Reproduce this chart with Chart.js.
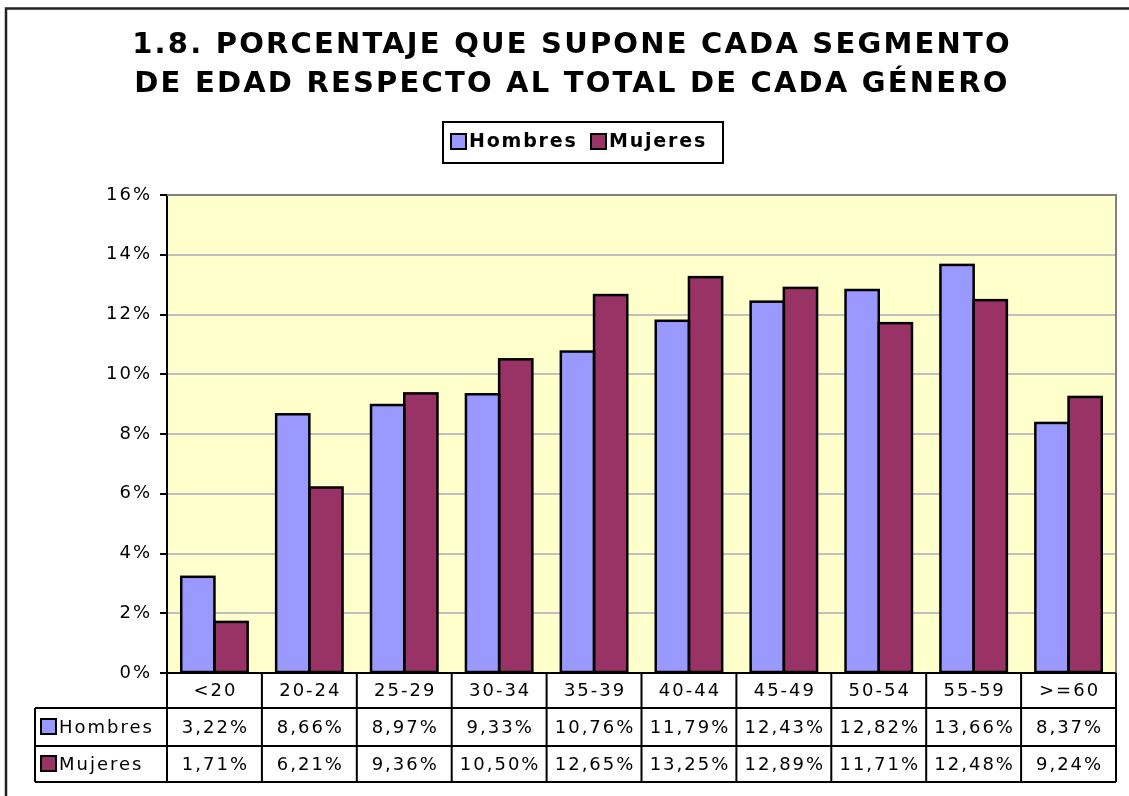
<!DOCTYPE html>
<html lang="es">
<head>
<meta charset="UTF-8">
<title>1.8 Porcentaje por segmento de edad</title>
<style>
  html, body { margin: 0; padding: 0; background: #fff; }
  #wrap { width: 1129px; height: 796px; }
</style>
</head>
<body>
<div id="wrap"><canvas id="myChart" width="1129" height="796"></canvas></div>

<script src="https://cdn.jsdelivr.net/npm/chart.js"></script>
<script>
    const categories = ['<20', '20-24', '25-29', '30-34', '35-39', '40-44', '45-49', '50-54', '55-59', '>=60'];
    const hombres = [3.22, 8.66, 8.97, 9.33, 10.76, 11.79, 12.43, 12.82, 13.66, 8.37];
    const mujeres = [1.71, 6.21, 9.36, 10.50, 12.65, 13.25, 12.89, 11.71, 12.48, 9.24];
    const titleLines = ['1.8. PORCENTAJE QUE SUPONE CADA SEGMENTO', 'DE EDAD RESPECTO AL TOTAL DE CADA GÉNERO'];

    const colHombres = '#9999FF';
    const colMujeres = '#993366';
    const FONT = '"DejaVu Sans", Verdana, sans-serif';

    const fmt = v => v.toFixed(2).replace('.', ',') + '%';

    // fondo amarillo del área de trazado
    const plotBg = {
        id: 'plotBg',
        beforeDraw(chart) {
            const {ctx, chartArea: a} = chart;
            ctx.save();
            ctx.fillStyle = '#fff';
            ctx.fillRect(0, 0, chart.width, chart.height);
            ctx.fillStyle = '#FFFFCC';
            ctx.fillRect(a.left, a.top, a.right - a.left, a.bottom - a.top);
            ctx.restore();
            ctx.letterSpacing = '2px';
        },
        // contorno negro de las barras, a partir de los elementos del gráfico
        afterDatasetsDraw(chart) {
            const ctx = chart.ctx;
            ctx.save();
            ctx.strokeStyle = '#000';
            ctx.lineWidth = 2.5;
            ctx.lineJoin = 'miter';
            chart.data.datasets.forEach((ds, di) => {
                chart.getDatasetMeta(di).data.forEach(bar => {
                    const {x, y, base, width} = bar.getProps(['x', 'y', 'base', 'width'], true);
                    ctx.strokeRect(x - width / 2, y, width, base - y);
                });
            });
            ctx.restore();
        }
    };

    // titulo, leyenda y tabla de datos
    const extras = {
        id: 'extras',
        afterDraw(chart) {
            const {ctx, chartArea: a} = chart;
            const x = chart.scales.x;
            ctx.save();

            // marco exterior
            ctx.strokeStyle = '#222';
            ctx.lineWidth = 2.5;
            ctx.strokeRect(6, 8.5, 1300, 900);

            // borde gris del área
            ctx.strokeStyle = '#808080';
            ctx.lineWidth = 2;
            ctx.beginPath();
            ctx.moveTo(a.left, a.top);
            ctx.lineTo(a.right, a.top);
            ctx.lineTo(a.right, a.bottom);
            ctx.stroke();

            // titulo
            ctx.fillStyle = '#000';
            ctx.textAlign = 'center';
            ctx.textBaseline = 'middle';
            ctx.letterSpacing = '2.2px';
            ctx.font = 'bold 29px ' + FONT;
            ctx.fillText(titleLines[0], 572, 45);
            ctx.fillText(titleLines[1], 572, 84);

            // leyenda
            ctx.letterSpacing = '1.8px';
            ctx.font = 'bold 19px ' + FONT;
            ctx.lineWidth = 2;
            ctx.strokeStyle = '#000';
            ctx.strokeRect(443, 122, 280, 41);
            const legendItems = [['Hombres', colHombres, 451], ['Mujeres', colMujeres, 591]];
            ctx.textAlign = 'left';
            legendItems.forEach(([lab, col, lx]) => {
                ctx.fillStyle = col;
                ctx.fillRect(lx, 134, 15, 15);
                ctx.strokeRect(lx, 134, 15, 15);
                ctx.fillStyle = '#000';
                ctx.fillText(lab, lx + 18, 142);
            });

            // tabla de datos
            const cw = (a.right - a.left) / categories.length;
            const r0 = a.bottom, r1 = 708, r2 = 746, r3 = 782;
            const labLeft = 35;
            ctx.letterSpacing = '2px';
            ctx.font = '18px ' + FONT;
            ctx.strokeStyle = '#000';
            ctx.lineWidth = 2;
            ctx.beginPath();
            // horizontales
            ctx.moveTo(a.left - 7, r0); ctx.lineTo(a.right, r0);
            ctx.moveTo(labLeft, r1); ctx.lineTo(a.right, r1);
            ctx.moveTo(labLeft, r2); ctx.lineTo(a.right, r2);
            ctx.moveTo(labLeft, r3); ctx.lineTo(a.right, r3);
            // verticales
            ctx.moveTo(labLeft, r1); ctx.lineTo(labLeft, r3);
            for (let i = 0; i <= categories.length; i++) {
                const vx = a.left + i * cw;
                ctx.moveTo(vx, r0); ctx.lineTo(vx, r3);
            }
            ctx.stroke();

            ctx.textAlign = 'center';
            ctx.fillStyle = '#000';
            categories.forEach((c, i) => {
                const cx = x.getPixelForValue(i) + 1;
                ctx.fillText(c, cx, (r0 + r1) / 2 + 1);
                ctx.fillText(fmt(hombres[i]), cx, (r1 + r2) / 2 + 1);
                ctx.fillText(fmt(mujeres[i]), cx, (r2 + r3) / 2 + 1);
            });

            // etiquetas de fila con su color
            ctx.textAlign = 'left';
            [['Hombres', colHombres, r1, r2], ['Mujeres', colMujeres, r2, r3]].forEach(([lab, col, ta, tb]) => {
                const my = (ta + tb) / 2;
                ctx.fillStyle = col;
                ctx.fillRect(41, my - 8, 15, 15);
                ctx.strokeRect(41, my - 8, 15, 15);
                ctx.fillStyle = '#000';
                ctx.fillText(lab, 59, my + 1);
            });

            ctx.restore();
        }
    };

    const config = {
        type: 'bar',
        data: {
            labels: categories,
            datasets: [
                {
                    label: 'Hombres',
                    data: hombres,
                    backgroundColor: colHombres,
                    borderWidth: 0
                },
                {
                    label: 'Mujeres',
                    data: mujeres,
                    backgroundColor: colMujeres,
                    borderWidth: 0
                }
            ]
        },
        options: {
            responsive: false,
            animation: false,
            layout: {
                padding: {top: 195, bottom: 123, right: 13, left: 0}
            },
            datasets: {
                bar: {categoryPercentage: 0.7, barPercentage: 1}
            },
            scales: {
                x: {display: false},
                y: {
                    min: 0,
                    max: 16,
                    afterFit(scale) { scale.width = 167; },
                    border: {display: true, color: '#000', width: 2},
                    grid: {
                        color: c => c.tick && c.tick.value === 16 ? '#808080' : '#C0C0C0',
                        lineWidth: 2,
                        tickColor: '#000',
                        tickLength: 7
                    },
                    ticks: {
                        stepSize: 2,
                        padding: 8,
                        color: '#000',
                        font: {family: FONT, size: 18},
                        callback: v => v + '%'
                    }
                }
            },
            plugins: {
                legend: {display: false},
                title: {display: false},
                tooltip: {enabled: false}
            }
        },
        plugins: [plotBg, extras]
    };

    new Chart(document.getElementById('myChart'), config);
</script>
</body>
</html>
